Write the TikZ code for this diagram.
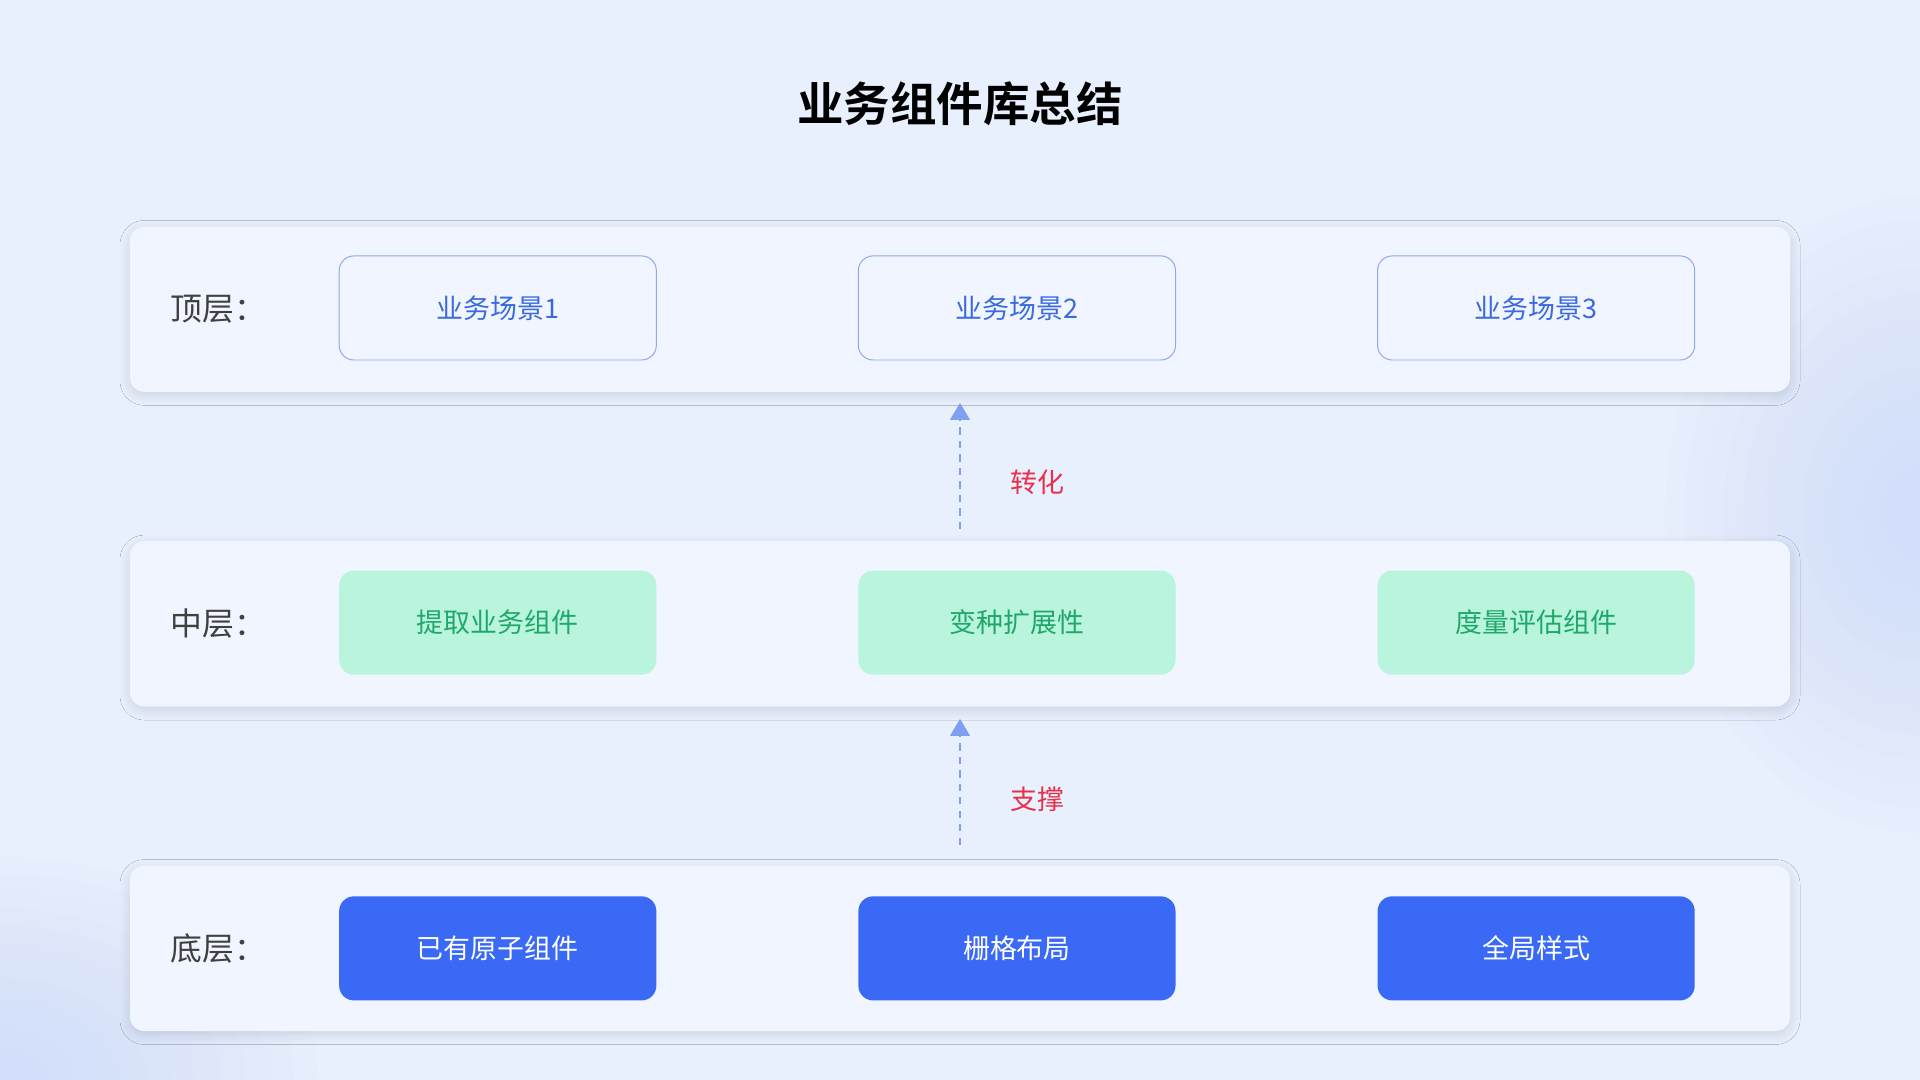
\documentclass[tikz,border=0pt]{standalone}
\usepackage{fontspec}
\setmainfont{Noto Sans CJK SC}
\newfontfamily\cjkb{Noto Sans CJK SC Bold}
\usetikzlibrary{arrows.meta,shadows.blur}
\definecolor{bg}{HTML}{E8F0FE}
\definecolor{panel}{HTML}{F0F5FF}
\definecolor{topb}{HTML}{8FA8E8}
\definecolor{topt}{HTML}{3A6AE0}
\definecolor{midf}{HTML}{B8F5DC}
\definecolor{midt}{HTML}{1FA86A}
\definecolor{botf}{HTML}{3A6AF5}
\definecolor{arr}{HTML}{7FA0F0}
\definecolor{lbl}{HTML}{E8304A}
\definecolor{glow}{HTML}{C6D6FA}
\begin{document}
\begin{tikzpicture}[x=1pt,y=-1pt,
  panelbox/.style={fill=panel,rounded corners=12pt,blur shadow={shadow blur steps=10,shadow blur radius=8pt,shadow xshift=0pt,shadow yshift=-3pt,shadow opacity=12}},
  basebox/.style={rounded corners=12pt,minimum width=259pt,minimum height=85pt,font=\fontsize{22}{26}\selectfont},
  topbox/.style={basebox,draw=topb,line width=0.8pt,fill=panel,text=topt},
  midbox/.style={basebox,fill=midf,text=midt},
  botbox/.style={basebox,fill=botf,text=white},
  lvl/.style={anchor=west,font=\fontsize{26}{30}\selectfont,text=black!75},
  conn/.style={arr,line width=2.2pt,dash pattern=on 6pt off 5pt,-{Triangle[length=14pt,width=16pt]}},
  clbl/.style={text=lbl,font=\fontsize{22}{26}\selectfont}]
\fill[bg] (0,0) rectangle (1568,882);
\useasboundingbox (0,0) rectangle (1568,882);
\begin{scope}
\clip (0,0) rectangle (1568,882);
\foreach \r in {260,240,...,40}{
  \pgfmathsetmacro\ra{\r*0.8}
  \pgfmathsetmacro\rb{\r*0.7}
  \fill[glow,opacity=0.06] (1568,420) ellipse ({\ra} and {\r});
  \fill[glow,opacity=0.06] (0,882) ellipse ({\r} and {\rb});
}
\end{scope}
\node[font=\cjkb\fontsize{38}{44}\selectfont] (title) at (784,85) {业务组件库总结};
\foreach \n/\y in {p1/252.5,p2/509.5,p3/774.5}{
  \fill[panelbox] (106,\y-67.5) rectangle (1462,\y+67.5);
  \coordinate (\n) at (0,\y);
}
\node[lvl] (l1) at (136,252.5) {顶层：};
\node[lvl] (l2) at (136,509.5) {中层：};
\node[lvl] (l3) at (136,774.5) {底层：};
\node[topbox] (t1) at (406.5,251.5) {业务场景1};
\node[topbox] (t2) at (830.5,251.5) {业务场景2};
\node[topbox] (t3) at (1254.5,251.5) {业务场景3};
\node[midbox] (m1) at (406.5,508.5) {提取业务组件};
\node[midbox] (m2) at (830.5,508.5) {变种扩展性};
\node[midbox] (m3) at (1254.5,508.5) {度量评估组件};
\node[botbox] (b1) at (406.5,774.5) {已有原子组件};
\node[botbox] (b2) at (830.5,774.5) {栅格布局};
\node[botbox] (b3) at (1254.5,774.5) {全局样式};
\coordinate (a1s) at (784,432); \coordinate (a1e) at (784,329);
\coordinate (a2s) at (784,690); \coordinate (a2e) at (784,587);
\draw[conn] (a1s) -- (a1e);
\draw[conn] (a2s) -- (a2e);
\node[clbl] (c1) at (847,394) {转化};
\node[clbl] (c2) at (847,653) {支撑};
\end{tikzpicture}
\end{document}
